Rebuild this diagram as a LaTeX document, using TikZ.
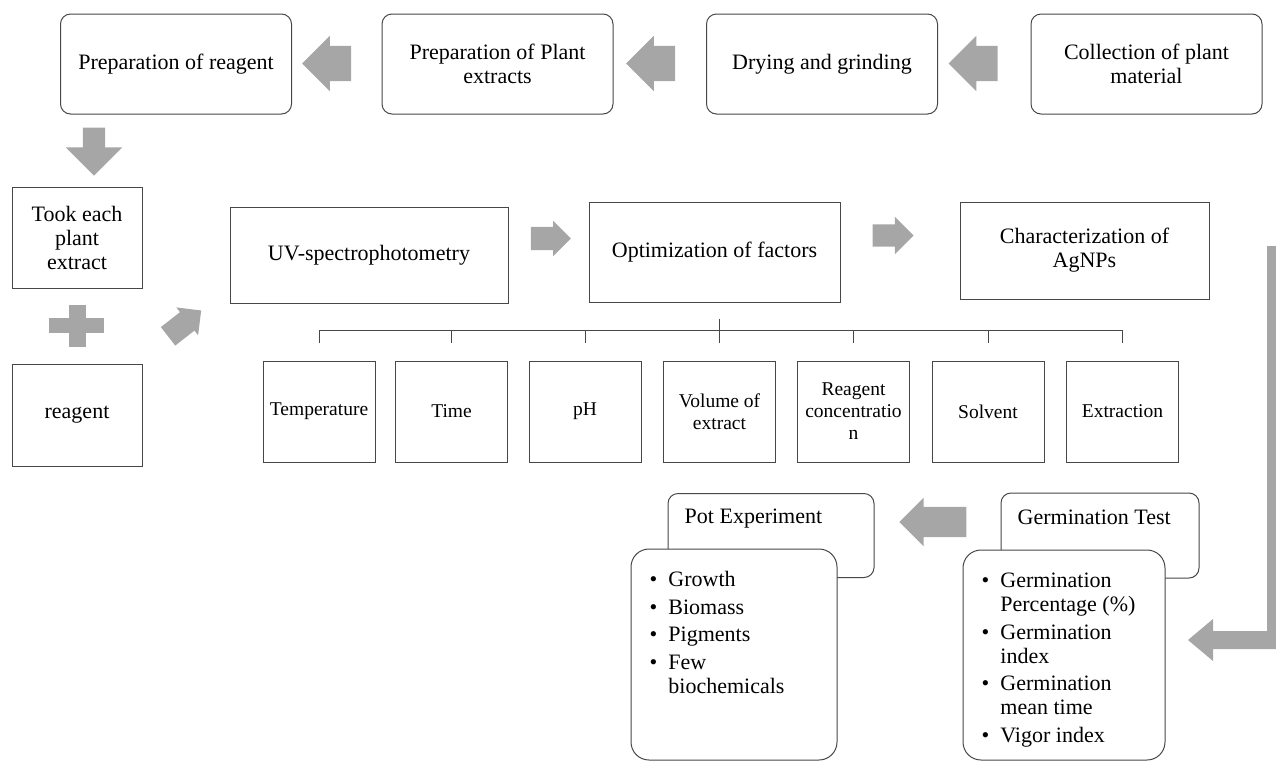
\documentclass[tikz,border=0pt]{standalone}
\usepackage{fontspec}
\setmainfont{Liberation Serif}
\usetikzlibrary{shapes.arrows}

\definecolor{arrowgray}{HTML}{A6A6A6}
\definecolor{linegray}{HTML}{474747}

\begin{document}
\begin{tikzpicture}
    [x=1pt,y=-1pt,
     every node/.style={font=\fontsize{22}{24}\selectfont},
     round box/.style={draw=linegray,line width=1pt,rounded corners=10pt,minimum width=231pt,minimum height=100pt,align=center},
     plain box/.style={draw=linegray,line width=1pt,align=center},
     factor/.style={plain box,minimum width=112pt,minimum height=101pt,inner sep=1pt,font=\fontsize{19.5}{22}\selectfont},
     head box/.style={draw=linegray,line width=1pt,rounded corners=10pt,minimum width=206pt,minimum height=84pt},
     list box/.style={draw=linegray,line width=1pt,rounded corners=18pt,fill=white,minimum width=206pt,minimum height=211pt},
     garrow/.style={single arrow,fill=arrowgray,inner xsep=0pt,inner ysep=17.5pt,single arrow head extend=10pt,minimum height=49pt}]
    \useasboundingbox (0,0) rectangle (1276,761);
    % top row
    \node[round box] (reag) at (176,64) {Preparation of reagent};
    \node[round box] (plext) at (497.5,64) {Preparation of Plant\\extracts};
    \node[round box] (dry) at (822,64) {Drying and grinding};
    \node[round box] (coll) at (1146.5,64) {Collection of plant\\material};
    \node[garrow,rotate=180] (a1) at (335.5,63.5) {};
    \node[garrow,rotate=180] (a2) at (659.5,63.5) {};
    \node[garrow,rotate=180] (a3) at (982,63.5) {};
    \node[garrow,rotate=-90,minimum height=48pt,inner ysep=11pt,single arrow head extend=17pt] (a4) at (94,146) {};
    % left column
    \node[plain box,minimum width=130pt,minimum height=101pt] (took) at (77,237.5) {Took each\\plant\\extract};
    \node[plain box,minimum width=130pt,minimum height=102pt] (reagent) at (77,415) {reagent};
    \fill[arrowgray] (49,318) rectangle (104,333);
    \fill[arrowgray] (69,305) rectangle (86,347);
    \node[garrow,rotate=38,minimum height=42pt,inner ysep=11.5pt,single arrow head extend=6pt] (a5) at (180,327) {};
    % middle row
    \node[plain box,minimum width=278pt,minimum height=96pt] (uv) at (369,255) {UV-spectrophotometry};
    \node[plain box,minimum width=251pt,minimum height=100pt] (opt) at (714.5,252) {Optimization of factors};
    \node[plain box,minimum width=249pt,minimum height=97pt] (char) at (1084.5,250.5) {Characterization of\\AgNPs};
    \node[garrow,minimum height=40pt,inner ysep=11.5pt,single arrow head extend=6pt] (a6) at (545,238.5) {};
    \node[garrow,minimum height=41pt,inner ysep=11pt,single arrow head extend=7.5pt] (a7) at (887.5,235.5) {};
    % factors
    \node[factor] (t1) at (319,411.5) {Temperature};
    \node[factor] (t2) at (451.5,411.5) {Time};
    \node[factor] (t3) at (585,411.5) {pH};
    \node[factor] (t4) at (719.5,411.5) {Volume of\\extract};
    \node[factor] (t5) at (853.5,411.5) {Reagent\\concentratio\\n};
    \node[factor] (t6) at (988,411.5) {Solvent};
    \node[factor] (t7) at (1122.5,411.5) {Extraction};
    \draw[linegray,line width=1pt] ([yshift=18pt]t1.north) |- ([yshift=30pt]t4.north) -| ([yshift=18pt]t7.north);
    \draw[linegray,line width=1pt] ([yshift=42pt]t4.north) -- ([yshift=18pt]t4.north);
    \draw[linegray,line width=1pt] ([yshift=18pt]t2.north) -- ([yshift=30pt]t2.north);
    \draw[linegray,line width=1pt] ([yshift=18pt]t3.north) -- ([yshift=30pt]t3.north);
    \draw[linegray,line width=1pt] ([yshift=18pt]t5.north) -- ([yshift=30pt]t5.north);
    \draw[linegray,line width=1pt] ([yshift=18pt]t6.north) -- ([yshift=30pt]t6.north);
    % tests
    \node[head box,label={[anchor=north west,inner sep=0pt,xshift=17pt,yshift=-16pt]north west:Pot Experiment}] (pot) at (771,535.5) {};
    \node[head box,minimum width=198pt,minimum height=85pt,label={[anchor=north west,inner sep=0pt,xshift=17pt,yshift=-17pt]north west:Germination Test}] (germ) at (1100,535.5) {};
    \node[list box,label={[anchor=north west,inner sep=0pt,xshift=19pt,yshift=-21pt]north west:{\begin{tabular}{@{}l@{\hspace{11pt}}l@{}}
      \textbullet & Growth\\[3.5pt]
      \textbullet & Biomass\\[3.5pt]
      \textbullet & Pigments\\[3.5pt]
      \textbullet & Few\\
                  & biochemicals
      \end{tabular}}}] (potlist) at (734,654.5) {};
    \node[list box,minimum width=202pt,minimum height=210pt,label={[anchor=north west,inner sep=0pt,xshift=19pt,yshift=-21pt]north west:{\begin{tabular}{@{}l@{\hspace{11pt}}l@{}}
      \textbullet & Germination\\
                  & Percentage (\%)\\[3.5pt]
      \textbullet & Germination\\
                  & index\\[3.5pt]
      \textbullet & Germination\\
                  & mean time\\[3.5pt]
      \textbullet & Vigor index
      \end{tabular}}}] (germlist) at (1064,655) {};
    \node[garrow,rotate=180,minimum height=67pt,inner ysep=15pt,single arrow head extend=9pt] (a8) at (940.5,522) {};
    \fill[arrowgray] (1276,246) -- (1267,246) -- (1267,631) -- (1213,631) -- (1213,619) -- (1188,640) -- (1213,661) -- (1213,649) -- (1276,649) -- cycle;
\end{tikzpicture}
\end{document}
